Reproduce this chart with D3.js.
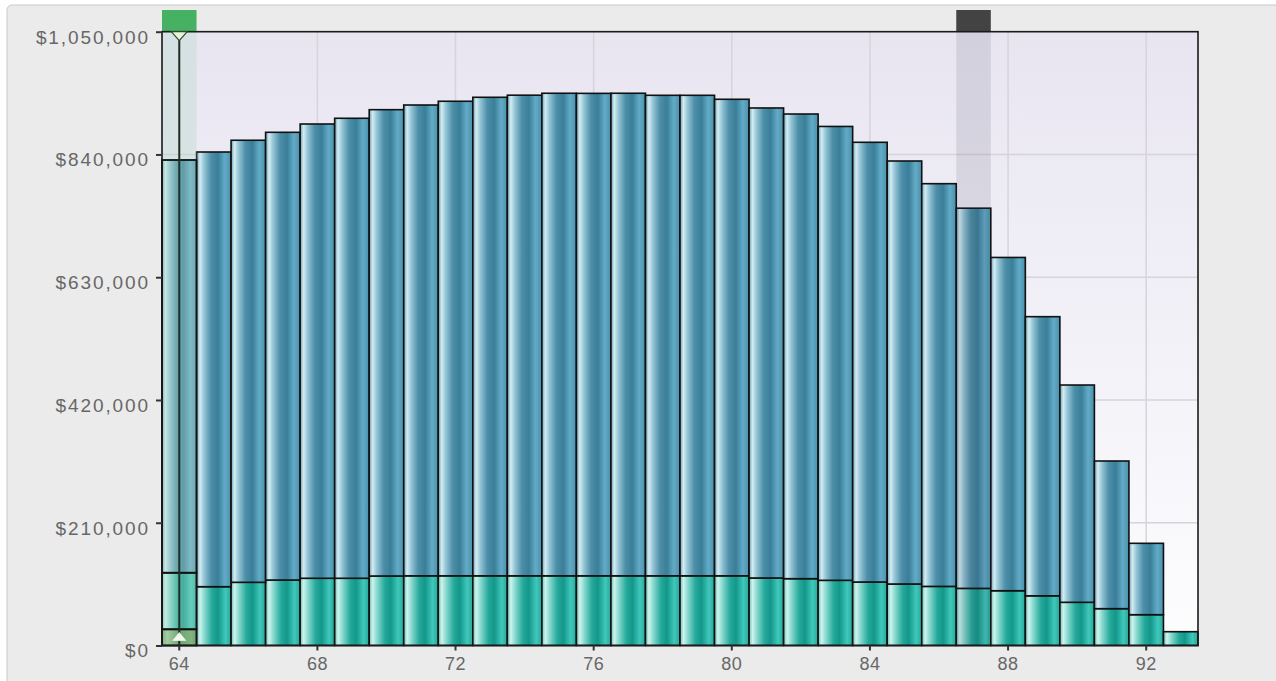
<!DOCTYPE html>
<html><head><meta charset="utf-8">
<script src="https://cdn.jsdelivr.net/npm/d3@7"></script>
<style>html,body{margin:0;padding:0;background:#fff;}svg{display:block;}</style>
</head><body>
<svg id="chart" width="1276" height="681"></svg>
<script>
const ages = [64,65,66,67,68,69,70,71,72,73,74,75,76,77,78,79,80,81,82,83,84,85,86,87,88,89,90,91,92,93];
// bottom highlighted segment (only for the selected age)
const greenValues = [27700,0,0,0,0,0,0,0,0,0,0,0,0,0,0,0,0,0,0,0,0,0,0,0,0,0,0,0,0,0];
// lower (teal) segment
const tealValues = [96800,100600,108100,112000,115000,115000,118900,119200,119200,119200,119200,119200,119200,119200,119200,119200,119200,115500,114300,111500,108600,105200,101100,97700,93700,85000,73900,63000,52700,23600];
// totals (top of the blue segment)
const totalValues = [830500,844200,864300,877900,892100,901900,916600,924600,931000,937800,941400,944700,944500,944700,941200,941200,934400,919500,909200,887900,860800,828800,790000,748100,663800,562500,445600,315600,174800,23600];
const yTicks = [0,210000,420000,630000,840000,1050000];
const xTicks = [64,68,72,76,80,84,88,92];
const selectedAge = 64;
const markedAge = 87;

const svg = d3.select("#chart");
const L = 162, R = 1198, T = 31.7, B = 645.5;
const x = d3.scaleBand().domain(ages).range([L, R]).padding(0);
const y = d3.scaleLinear().domain([0, 1050000]).range([B, T]);

const defs = svg.append("defs");
function grad(id, stops, vertical) {
  const g = defs.append("linearGradient").attr("id", id)
    .attr("x1", 0).attr("y1", 0).attr("x2", vertical ? 0 : 1).attr("y2", vertical ? 1 : 0);
  stops.forEach(s => g.append("stop").attr("offset", s[0]).attr("stop-color", s[1]));
}
grad("bg", [[0, "#e8e5f1"], [1, "#fdfdfe"]], true);
grad("blue", [[0, "#6f9fb1"], [0.1, "#d3ecf3"], [0.22, "#93c4d5"], [0.42, "#4d8fa8"], [0.62, "#3a7e99"], [0.82, "#62abc6"], [1, "#4b90ad"]]);
grad("teal", [[0, "#6cbcb2"], [0.1, "#cdf4ee"], [0.22, "#8bdad0"], [0.45, "#25a99b"], [0.62, "#12978a"], [0.84, "#40c8bb"], [1, "#24a799"]]);
grad("green", [[0, "#6a9c62"], [0.15, "#9cc592"], [0.5, "#4f8a48"], [0.85, "#67a35e"], [1, "#4c8446"]]);

// outer panel
svg.append("rect").attr("x", 7).attr("y", 5).attr("width", 1300).attr("height", 700)
  .attr("rx", 5).attr("fill", "#ebebeb").attr("stroke", "#c9c9c9").attr("stroke-width", 1);

// plot background
svg.append("rect").attr("x", L).attr("y", T).attr("width", R - L).attr("height", B - T).attr("fill", "url(#bg)");

// grid
const gridG = svg.append("g");
gridG.selectAll("line.h").data(yTicks.slice(1, -1)).join("line")
  .attr("x1", L).attr("x2", R).attr("y1", d => y(d)).attr("y2", d => y(d))
  .attr("stroke", "#d6d3dc").attr("stroke-width", 1.5);
gridG.selectAll("line.v").data(xTicks).join("line")
  .attr("x1", d => x(d) + x.bandwidth() / 2).attr("x2", d => x(d) + x.bandwidth() / 2)
  .attr("y1", T).attr("y2", B)
  .attr("stroke", "#d6d3dc").attr("stroke-width", 1.5);

// stacked bars
const rows = ages.map((a, i) => ({ age: a, green: greenValues[i], teal: tealValues[i], blue: totalValues[i] - greenValues[i] - tealValues[i] }));
const stack = d3.stack().keys(["green", "teal", "blue"])(rows);
const fills = { green: "url(#green)", teal: "url(#teal)", blue: "url(#blue)" };
const barsG = svg.append("g");
stack.forEach(layer => {
  barsG.append("g").selectAll("rect").data(layer.filter(d => d[1] - d[0] > 0)).join("rect")
    .attr("x", d => x(d.data.age))
    .attr("width", x.bandwidth())
    .attr("y", d => y(d[1]))
    .attr("height", d => y(d[0]) - y(d[1]))
    .attr("fill", fills[layer.key])
    .attr("stroke", "#111").attr("stroke-width", 1.6);
});

// marked age band (dark)
svg.append("rect").attr("x", x(markedAge)).attr("width", x.bandwidth())
  .attr("y", T).attr("height", B - T).attr("fill", "rgba(60,60,80,0.12)");
svg.append("rect").attr("x", x(markedAge)).attr("width", x.bandwidth())
  .attr("y", 10).attr("height", T - 10).attr("fill", "#434343");

// selected age band (green)
const sx = x(selectedAge), cx = sx + x.bandwidth() / 2;
svg.append("rect").attr("x", sx).attr("width", x.bandwidth())
  .attr("y", T).attr("height", B - T).attr("fill", "rgba(175,218,195,0.34)");
svg.append("rect").attr("x", sx).attr("width", x.bandwidth())
  .attr("y", 10).attr("height", T - 10).attr("fill", "#46b063");
// redraw outlines of the selected bar above the band
stack.forEach(layer => {
  svg.append("g").selectAll("rect").data(layer.filter(d => d.data.age === selectedAge && d[1] - d[0] > 0)).join("rect")
    .attr("x", d => x(d.data.age)).attr("width", x.bandwidth())
    .attr("y", d => y(d[1])).attr("height", d => y(d[0]) - y(d[1]))
    .attr("fill", "none").attr("stroke", "#111").attr("stroke-width", 1.6);
});
svg.append("line").attr("x1", cx).attr("x2", cx).attr("y1", T).attr("y2", B)
  .attr("stroke", "#1c2f22").attr("stroke-width", 2);

// plot frame
svg.append("rect").attr("x", L).attr("y", T).attr("width", R - L).attr("height", B - T)
  .attr("fill", "none").attr("stroke", "#1a1a1a").attr("stroke-width", 1.6);

// triangles
svg.append("path").attr("d", `M${cx - 8},${T} L${cx + 8},${T} L${cx},${T + 9} Z`)
  .attr("fill", "#e6f4dc").attr("stroke", "#2c4a30").attr("stroke-width", 1.2);
svg.append("path").attr("d", `M${cx - 6.5},${B - 5} L${cx + 6.5},${B - 5} L${cx},${B - 13} Z`)
  .attr("fill", "#f2f8ee").attr("stroke", "#e8f2e0").attr("stroke-width", 0.8);

// axes
const yAxis = svg.append("g").attr("transform", `translate(${L},0)`)
  .call(d3.axisLeft(y).tickValues(yTicks).tickSize(6).tickPadding(6).tickFormat(d => "$" + d3.format(",")(d)));
yAxis.select(".domain").remove();
yAxis.selectAll("line").attr("stroke", "#333").attr("stroke-width", 2);
yAxis.selectAll("text").attr("fill", "#676767").style("font-family", "'Liberation Sans', Arial, sans-serif")
  .style("font-size", "19px").style("letter-spacing", "1.9px").attr("dy", "0.6em");

const xAxis = svg.append("g").attr("transform", `translate(0,${B})`)
  .call(d3.axisBottom(x).tickValues(xTicks).tickSize(5).tickPadding(7));
xAxis.select(".domain").remove();
xAxis.selectAll("line").attr("stroke", "#333").attr("stroke-width", 2);
xAxis.selectAll("text").attr("fill", "#676767").style("font-family", "'Liberation Sans', Arial, sans-serif")
  .style("font-size", "18px").style("letter-spacing", "0.5px");
</script>
</body></html>
